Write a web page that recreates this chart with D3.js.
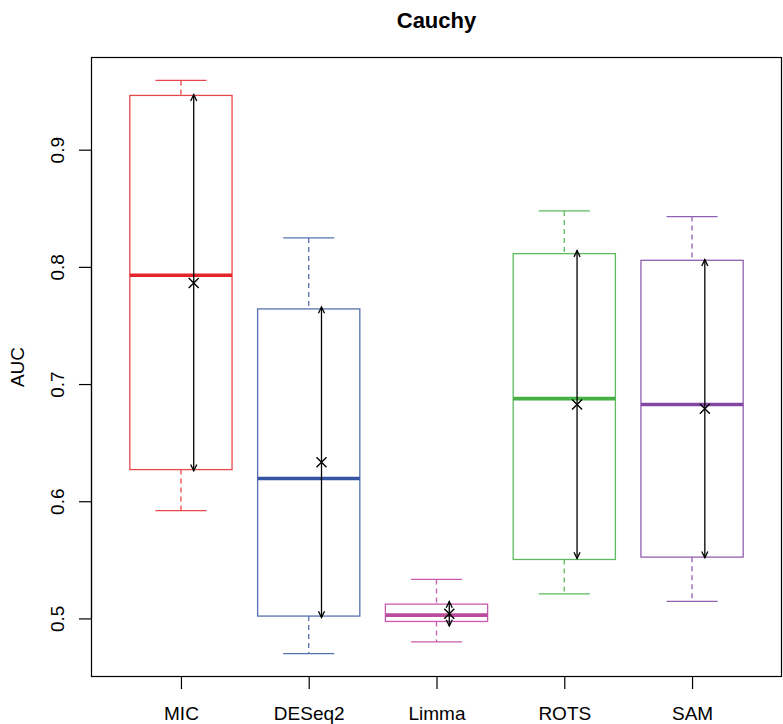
<!DOCTYPE html>
<html>
<head>
<meta charset="utf-8">
<script src="https://cdn.jsdelivr.net/npm/d3@7"></script>
<style>
  html, body { margin: 0; padding: 0; background: #fff; }
  svg { display: block; }
  text { font-family: "Liberation Sans", Arial, Helvetica, sans-serif; fill: #000; }
</style>
</head>
<body>
<svg id="chart" width="783" height="724"></svg>
<script>
// ---- data ----
const title = "Cauchy";
const yLabel = "AUC";
const categories = ["MIC", "DESeq2", "Limma", "ROTS", "SAM"];
const whiskerLow  = [0.592, 0.470, 0.480, 0.521, 0.5145];
const q1          = [0.627, 0.502, 0.4974, 0.5503, 0.5523];
const medians     = [0.7928, 0.6194, 0.5028, 0.6876, 0.6825];
const q3          = [0.9463, 0.7641, 0.5122, 0.8113, 0.8056];
const whiskerHigh = [0.9591, 0.8247, 0.5333, 0.8477, 0.8429];
const means       = [0.7863, 0.6333, 0.504, 0.6825, 0.679];
const meanMinusSd = [0.626, 0.5008, 0.4935, 0.5511, 0.5518];
const meanPlusSd  = [0.947, 0.7658, 0.5145, 0.8139, 0.8062];
const yTicks = [0.5, 0.6, 0.7, 0.8, 0.9];
const boxColors    = ["#E8484B", "#5472AE", "#C85AAE", "#5DBB5D", "#9060B0"];
const medianColors = ["#E3242B", "#3555A0", "#BB4B9C", "#45AE45", "#8447A6"];

// ---- layout ----
const svg = d3.select("#chart");
const plot = { left: 91.5, right: 781.5, top: 57.5, bottom: 676.5 };

const lo = d3.min(whiskerLow), hi = d3.max(whiskerHigh);
const pad = (hi - lo) * 0.04;
const y = d3.scaleLinear().domain([lo - pad, hi + pad]).range([plot.bottom, plot.top]);
const n = categories.length;
const x = d3.scaleLinear().domain([0.5 - 0.04 * n, n + 0.5 + 0.04 * n]).range([plot.left, plot.right]);
const unit = x(2) - x(1);
const boxHalf = 0.4 * unit;
const stapleHalf = 0.2 * unit;
const offset = 0.1 * unit;

// title
svg.append("text")
  .attr("x", (plot.left + plot.right) / 2)
  .attr("y", 28)
  .attr("text-anchor", "middle")
  .style("font-size", "22px")
  .style("font-weight", "bold")
  .text(title);

// y label
svg.append("text")
  .attr("transform", `translate(24, ${(plot.top + plot.bottom) / 2}) rotate(-90)`)
  .attr("text-anchor", "middle")
  .style("font-size", "19px")
  .text(yLabel);

// frame
svg.append("rect")
  .attr("x", plot.left).attr("y", plot.top)
  .attr("width", plot.right - plot.left).attr("height", plot.bottom - plot.top)
  .attr("fill", "none").attr("stroke", "#000").attr("stroke-width", 1.2);

// y axis
const yAxis = d3.axisLeft(y).tickValues(yTicks).tickSize(12.5).tickPadding(0).tickFormat(d3.format(".1f"));
const gy = svg.append("g").attr("transform", `translate(${plot.left},0)`).call(yAxis);
gy.select(".domain").attr("d", `M0,${y(yTicks[0])}V${y(yTicks[yTicks.length - 1])}`).attr("stroke-width", 1.2);
gy.selectAll(".tick line").attr("stroke-width", 1.2);
gy.selectAll(".tick text")
  .attr("x", null).attr("dy", null)
  .attr("transform", "translate(-28,0) rotate(-90)")
  .attr("text-anchor", "middle")
  .style("font-size", "19px")
  .style("font-family", "'Liberation Sans', Arial, sans-serif");

// x axis
const xAxis = d3.axisBottom(x).tickValues(d3.range(1, n + 1)).tickSize(12.5).tickPadding(0)
  .tickFormat((d) => categories[d - 1]);
const gx = svg.append("g").attr("transform", `translate(0,${plot.bottom})`).call(xAxis);
gx.select(".domain").attr("d", `M${x(1)},0H${x(n)}`).attr("stroke-width", 1.2);
gx.selectAll(".tick line").attr("stroke-width", 1.2);
gx.selectAll(".tick text")
  .attr("y", 43.5).attr("dy", null)
  .style("font-size", "19px")
  .style("font-family", "'Liberation Sans', Arial, sans-serif");

// boxes
const g = svg.append("g");
categories.forEach((c, i) => {
  const cx = x(i + 1);
  const col = boxColors[i];
  // whiskers (dashed)
  g.append("line").attr("x1", cx).attr("x2", cx).attr("y1", y(whiskerHigh[i])).attr("y2", y(q3[i]))
    .attr("stroke", col).attr("stroke-width", 1.3).attr("stroke-dasharray", "5,4");
  g.append("line").attr("x1", cx).attr("x2", cx).attr("y1", y(q1[i])).attr("y2", y(whiskerLow[i]))
    .attr("stroke", col).attr("stroke-width", 1.3).attr("stroke-dasharray", "5,4");
  // staples
  [whiskerHigh[i], whiskerLow[i]].forEach((v) => {
    g.append("line").attr("x1", cx - stapleHalf).attr("x2", cx + stapleHalf).attr("y1", y(v)).attr("y2", y(v))
      .attr("stroke", col).attr("stroke-width", 1.3);
  });
  // box
  g.append("rect").attr("x", cx - boxHalf).attr("y", y(q3[i]))
    .attr("width", 2 * boxHalf).attr("height", y(q1[i]) - y(q3[i]))
    .attr("fill", "none").attr("stroke", col).attr("stroke-width", 1.3);
  // median
  g.append("line").attr("x1", cx - boxHalf).attr("x2", cx + boxHalf).attr("y1", y(medians[i])).attr("y2", y(medians[i]))
    .attr("stroke", medianColors[i]).attr("stroke-width", 3.6);
});

// mean +- sd arrows and mean markers
const headLen = 7, headAng = Math.PI / 7;
categories.forEach((c, i) => {
  const ax = x(i + 1) + offset;
  const yTop = y(meanPlusSd[i]), yBot = y(meanMinusSd[i]);
  g.append("line").attr("x1", ax).attr("x2", ax).attr("y1", yTop).attr("y2", yBot)
    .attr("stroke", "#000").attr("stroke-width", 1.3);
  const dx = headLen * Math.sin(headAng), dy = headLen * Math.cos(headAng);
  g.append("path")
    .attr("d", `M${ax - dx},${yTop + dy}L${ax},${yTop}L${ax + dx},${yTop + dy}`)
    .attr("fill", "none").attr("stroke", "#000").attr("stroke-width", 1.3);
  g.append("path")
    .attr("d", `M${ax - dx},${yBot - dy}L${ax},${yBot}L${ax + dx},${yBot - dy}`)
    .attr("fill", "none").attr("stroke", "#000").attr("stroke-width", 1.3);
  const my = y(means[i]), s = 5;
  g.append("path")
    .attr("d", `M${ax - s},${my - s}L${ax + s},${my + s}M${ax - s},${my + s}L${ax + s},${my - s}`)
    .attr("stroke", "#000").attr("stroke-width", 1.4);
});
</script>
</body>
</html>
